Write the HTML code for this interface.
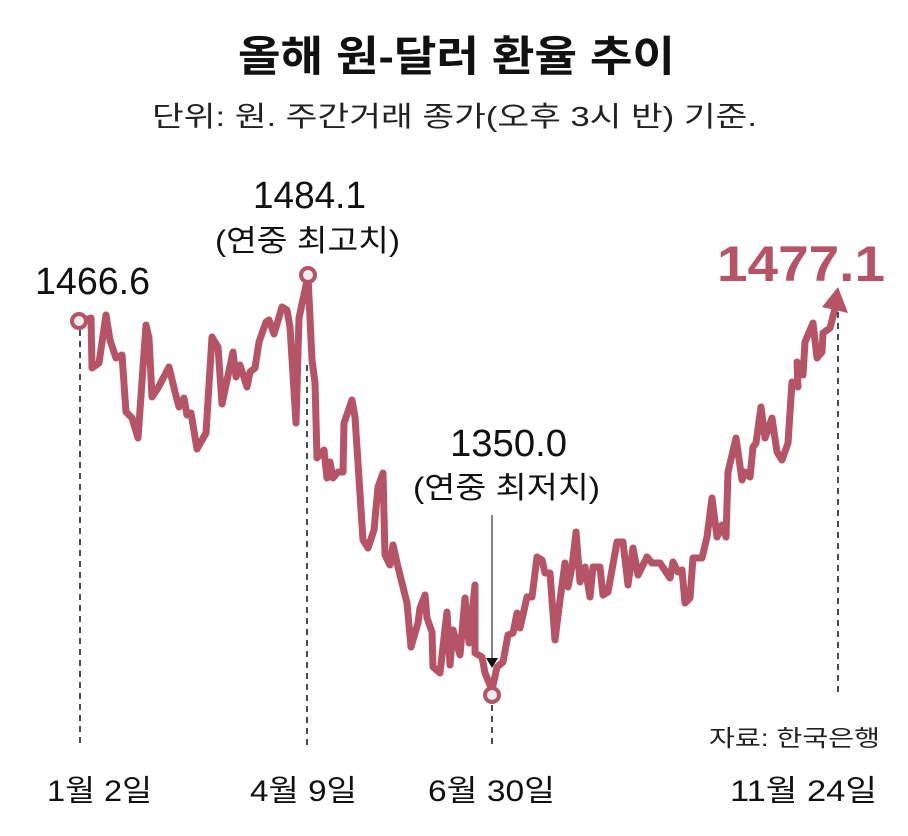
<!DOCTYPE html>
<html><head><meta charset="utf-8"><style>
html,body{margin:0;padding:0;background:#fff;}
svg{display:block;font-family:"Liberation Sans","Noto Sans CJK KR","NanumGothic",sans-serif;}
</style></head><body>
<svg width="908" height="836" viewBox="0 0 908 836" xmlns="http://www.w3.org/2000/svg">
<text x="238" y="71" font-size="42" font-weight="bold" textLength="437" lengthAdjust="spacingAndGlyphs" fill="#111">올해 원-달러 환율 추이</text>
<text x="152" y="126" font-size="28" textLength="605" lengthAdjust="spacingAndGlyphs" fill="#222">단위: 원. 주간거래 종가(오후 3시 반) 기준.</text>
<text x="253" y="208" font-size="38" textLength="113" lengthAdjust="spacingAndGlyphs" fill="#111">1484.1</text>
<text x="215" y="251" font-size="30" textLength="185" lengthAdjust="spacingAndGlyphs" fill="#111">(연중 최고치)</text>
<text x="35" y="294" font-size="38" textLength="115" lengthAdjust="spacingAndGlyphs" fill="#111">1466.6</text>
<text x="717" y="281" font-size="50" font-weight="bold" textLength="168" lengthAdjust="spacingAndGlyphs" fill="#b55466">1477.1</text>
<text x="450" y="456" font-size="38" textLength="117" lengthAdjust="spacingAndGlyphs" fill="#111">1350.0</text>
<text x="413" y="498" font-size="30" textLength="187" lengthAdjust="spacingAndGlyphs" fill="#111">(연중 최저치)</text>
<text x="709" y="746" font-size="23" textLength="171" lengthAdjust="spacingAndGlyphs" fill="#222">자료: 한국은행</text>
<g font-size="30" fill="#111">
<text x="47" y="801" textLength="105" lengthAdjust="spacingAndGlyphs">1월 2일</text>
<text x="250" y="801" textLength="107" lengthAdjust="spacingAndGlyphs">4월 9일</text>
<text x="428" y="801" textLength="127" lengthAdjust="spacingAndGlyphs">6월 30일</text>
<text x="730" y="801" textLength="147" lengthAdjust="spacingAndGlyphs">11월 24일</text>
</g>
<g stroke="#111" stroke-width="1.5" stroke-dasharray="6,5">
<line x1="80" y1="330" x2="80" y2="748"/>
<line x1="307" y1="365" x2="307" y2="748"/>
<line x1="492" y1="705" x2="492" y2="748"/>
<line x1="838" y1="312" x2="838" y2="692"/>
</g>
<line x1="492" y1="515" x2="492" y2="660" stroke="#333" stroke-width="1.2"/>
<polygon points="486,658 498,658 492,668" fill="#111"/>
<polyline fill="none" stroke="#b55466" stroke-width="7" stroke-linejoin="round" stroke-linecap="round" points="79,322 91,318 92,368 99,363 106,315 110,340 116,358 122,355 126,412 132,418 138,438 146,325 149,338 152,397 158,388 169,367 175,392 179,407 184,398 187,415 191,413 197,449 206,433 212,337 218,347 222,404 233,352 236,377 240,365 247,387 250,372 255,368 259,342 266,322 269,320 274,334 282,307 287,310 290,327 296,423 299,318 308,276 312,360 315,383 317,458 324,450 327,478 330,462 333,478 338,472 343,472 344,423 352,400 355,417 363,540 368,548 374,530 378,487 383,473 385,555 390,565 393,545 398,567 407,603 411,647 418,623 420,608 425,595 427,618 432,632 433,667 440,673 447,612 450,665 453,630 460,655 465,598 469,643 475,585 475,653 482,657 485,673 492,690 497,667 503,662 508,635 513,633 517,613 520,628 527,597 532,597 537,557 542,560 545,573 550,573 555,640 560,600 565,563 568,587 572,567 576,532 580,582 585,567 590,597 593,567 600,567 603,595 608,592 617,542 623,542 628,585 633,548 638,575 647,557 652,563 660,563 670,578 673,562 678,572 682,570 685,603 690,598 693,558 702,558 707,537 712,498 717,537 722,525 726,537 728,472 736,438 742,480 745,472 750,477 753,447 756,443 761,407 765,438 772,418 777,452 782,460 788,443 792,382 798,387 797,362 803,375 805,342 813,323 817,358 822,352 823,333 830,328 836,305"/>
<polygon points="838,287 822,307 848,313" fill="#b55466"/>
<circle cx="79" cy="321" r="7" fill="#eee" stroke="#b55466" stroke-width="4"/>
<circle cx="308" cy="275" r="7" fill="#eee" stroke="#b55466" stroke-width="4"/>
<circle cx="492" cy="695" r="7" fill="#eee" stroke="#b55466" stroke-width="4"/>
</svg>
</body></html>
